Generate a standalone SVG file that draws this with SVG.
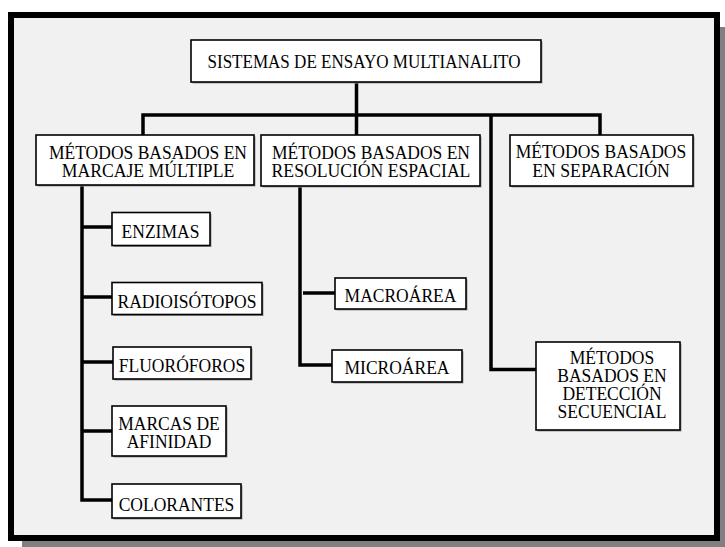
<svg xmlns="http://www.w3.org/2000/svg" width="725" height="547" viewBox="0 0 725 547">
<style>
.box{fill:#ffffff;stroke:#000000;stroke-width:1.6}
.sh{fill:#9a9a9a}
.t{font-family:"Liberation Serif","Times New Roman",serif;font-size:18.5px;fill:#000;text-anchor:middle}
.con{fill:none;stroke:#000;stroke-width:3.5;stroke-linejoin:miter;stroke-linecap:butt}
</style>
<rect x="22" y="27" width="712" height="529" fill="#808080"/>
<rect x="11" y="15" width="706" height="523" fill="#f1f1f1" stroke="#000" stroke-width="6"/>
<g id="connectors" class="con">
<path d="M356.5 82V135"/>
<path d="M143 135V115H600V135"/>
<path d="M491 115V369.5H536"/>
<path d="M82 185V500H112"/>
<path d="M82 227H112M82 297H112M82 362H113M82 431H112"/>
<path d="M300 186V365H332"/>
<path d="M303 293H335"/>
</g>
<g id="n-root"><rect class="sh" x="192.5" y="41.5" width="350" height="42"/><rect class="box" x="191" y="40" width="350" height="42"/><text class="t" x="364" y="68" textLength="313" lengthAdjust="spacingAndGlyphs">SISTEMAS DE ENSAYO MULTIANALITO</text></g>
<g id="n-marcaje"><rect class="sh" x="37.5" y="136.5" width="218" height="50"/><rect class="box" x="36" y="135" width="218" height="50"/><text class="t" x="148" y="159" textLength="198" lengthAdjust="spacingAndGlyphs">MÉTODOS BASADOS EN</text><text class="t" x="148" y="177" textLength="172.6" lengthAdjust="spacingAndGlyphs">MARCAJE MÚLTIPLE</text></g>
<g id="n-resolucion"><rect class="sh" x="262.5" y="136.5" width="219" height="51"/><rect class="box" x="261" y="135" width="219" height="51"/><text class="t" x="371" y="159" textLength="198" lengthAdjust="spacingAndGlyphs">MÉTODOS BASADOS EN</text><text class="t" x="371" y="177" textLength="198.8" lengthAdjust="spacingAndGlyphs">RESOLUCIÓN ESPACIAL</text></g>
<g id="n-separacion"><rect class="sh" x="511.5" y="136.5" width="183" height="51"/><rect class="box" x="510" y="135" width="183" height="51"/><text class="t" x="601" y="157.5" textLength="170.6" lengthAdjust="spacingAndGlyphs">MÉTODOS BASADOS</text><text class="t" x="601" y="176.5" textLength="137.6" lengthAdjust="spacingAndGlyphs">EN SEPARACIÓN</text></g>
<g id="n-enzimas"><rect class="sh" x="113.5" y="214" width="98" height="33"/><rect class="box" x="112" y="212.5" width="98" height="33"/><text class="t" x="160.5" y="237.5" textLength="77.8" lengthAdjust="spacingAndGlyphs">ENZIMAS</text></g>
<g id="n-radio"><rect class="sh" x="113.5" y="284" width="150" height="32"/><rect class="box" x="112" y="282.5" width="150" height="32"/><text class="t" x="187" y="307.5" textLength="139" lengthAdjust="spacingAndGlyphs">RADIOISÓTOPOS</text></g>
<g id="n-fluoro"><rect class="sh" x="114.5" y="348.5" width="138" height="32"/><rect class="box" x="113" y="347" width="138" height="32"/><text class="t" x="182" y="371.5" textLength="126.4" lengthAdjust="spacingAndGlyphs">FLUORÓFOROS</text></g>
<g id="n-marcas"><rect class="sh" x="113.5" y="407.5" width="114" height="50"/><rect class="box" x="112" y="406" width="114" height="50"/><text class="t" x="169" y="429.5" textLength="101.6" lengthAdjust="spacingAndGlyphs">MARCAS DE</text><text class="t" x="169" y="447.5" textLength="84.6" lengthAdjust="spacingAndGlyphs">AFINIDAD</text></g>
<g id="n-colorantes"><rect class="sh" x="113.5" y="485.5" width="129" height="34"/><rect class="box" x="112" y="484" width="129" height="34"/><text class="t" x="176.5" y="511" textLength="115.7" lengthAdjust="spacingAndGlyphs">COLORANTES</text></g>
<g id="n-macro"><rect class="sh" x="336.5" y="279.5" width="131" height="31"/><rect class="box" x="335" y="278" width="131" height="31"/><text class="t" x="400.5" y="301.5" textLength="111.8" lengthAdjust="spacingAndGlyphs">MACROÁREA</text></g>
<g id="n-micro"><rect class="sh" x="333.5" y="351.5" width="130" height="32"/><rect class="box" x="332" y="350" width="130" height="32"/><text class="t" x="397" y="373.5" textLength="105" lengthAdjust="spacingAndGlyphs">MICROÁREA</text></g>
<g id="n-deteccion"><rect class="sh" x="537.5" y="343.5" width="144" height="88"/><rect class="box" x="536" y="342" width="144" height="88"/><text class="t" x="612" y="364" textLength="84.6" lengthAdjust="spacingAndGlyphs">MÉTODOS</text><text class="t" x="612" y="382" textLength="109.4" lengthAdjust="spacingAndGlyphs">BASADOS EN</text><text class="t" x="612" y="400" textLength="99.2" lengthAdjust="spacingAndGlyphs">DETECCIÓN</text><text class="t" x="612" y="418" textLength="108.9" lengthAdjust="spacingAndGlyphs">SECUENCIAL</text></g>
</svg>
